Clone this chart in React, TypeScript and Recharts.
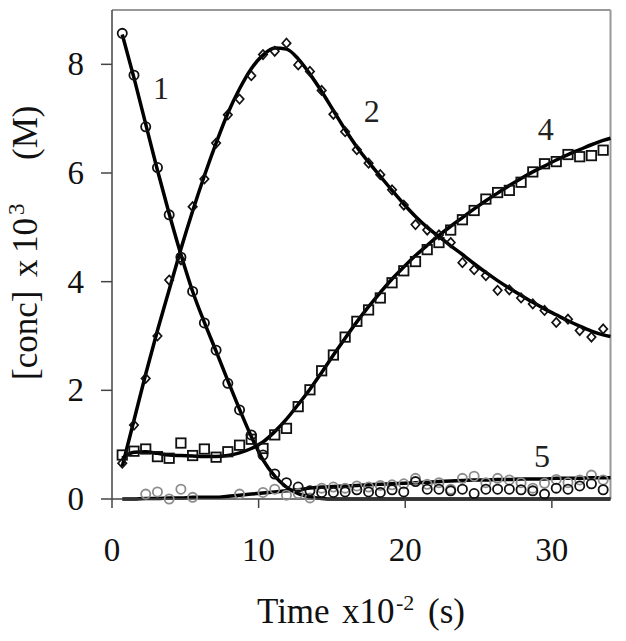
import React from 'react';
import { ComposedChart, Line, Scatter, XAxis, YAxis, ReferenceLine } from 'recharts';

// time grid (x10^-2 s)
const TIMES = [0.7, 1.5, 2.3, 3.1, 3.9, 4.7, 5.5, 6.3, 7.1, 7.9, 8.7, 9.5, 10.3, 11.1, 11.9, 12.7, 13.5, 14.3, 15.1, 15.9, 16.7, 17.5, 18.3, 19.1, 19.9, 20.7, 21.5, 22.3, 23.1, 23.9, 24.7, 25.5, 26.3, 27.1, 27.9, 28.7, 29.5, 30.3, 31.1, 31.9, 32.7, 33.5];
const FIT_TIMES = [0.7, 1.5, 2.3, 3.1, 3.9, 4.7, 5.5, 6.3, 7.1, 7.9, 8.7, 9.5, 10.3, 11.1, 11.9, 12.7, 13.5, 14.3, 15.1, 15.9, 16.7, 17.5, 18.3, 19.1, 19.9, 20.7, 21.5, 22.3, 23.1, 23.9, 24.7, 25.5, 26.3, 27.1, 27.9, 28.7, 29.5, 30.3, 31.1, 31.9, 32.7, 33.5, 34];

// observed data
const S1_OBS = [8.57, 7.80, 6.85, 6.10, 5.23, 4.45, 3.82, 3.24, 2.74, 2.13, 1.64, 1.18, 0.81, 0.46, 0.30, 0.22, 0.15, 0.12, 0.12, 0.13, 0.17, 0.13, 0.12, 0.17, 0.13, 0.32, 0.18, 0.18, 0.15, 0.18, 0.10, 0.18, 0.18, 0.18, 0.17, 0.15, 0.09, 0.20, 0.18, 0.24, 0.28, 0.17];
const S2_OBS = [0.66, 1.36, 2.22, 3.00, 4.03, 4.40, 5.38, 5.89, 6.55, 7.07, 7.36, 7.79, 8.18, 8.24, 8.39, 7.99, 7.87, 7.52, 7.08, 6.76, 6.43, 6.18, 5.97, 5.69, 5.41, 5.05, 4.95, 4.86, 4.72, 4.35, 4.22, 4.11, 3.84, 3.85, 3.70, 3.59, 3.47, 3.25, 3.31, 3.10, 2.98, 3.13];
const S4_OBS = [0.81, 0.88, 0.92, 0.78, 0.75, 1.03, 0.80, 0.92, 0.77, 0.87, 0.99, 1.10, 0.93, 1.18, 1.30, 1.70, 2.01, 2.36, 2.65, 2.98, 3.27, 3.48, 3.70, 3.98, 4.20, 4.37, 4.59, 4.72, 4.95, 5.14, 5.31, 5.52, 5.64, 5.68, 5.83, 6.02, 6.17, 6.21, 6.34, 6.30, 6.32, 6.42];
const S5_OBS = [null, null, 0.09, 0.13, 0.0, 0.18, 0.03, null, null, null, 0.09, null, 0.12, 0.18, 0.07, 0.10, 0.02, 0.20, 0.22, 0.20, 0.24, 0.22, 0.25, 0.26, 0.28, 0.38, 0.27, 0.30, 0.18, 0.38, 0.42, 0.30, 0.38, 0.35, 0.30, 0.20, 0.29, 0.36, 0.30, 0.35, 0.44, 0.35];

// fitted curves
const F1 = [8.55, 7.75, 6.90, 6.05, 5.25, 4.50, 3.82, 3.25, 2.72, 2.18, 1.65, 1.15, 0.72, 0.42, 0.22, 0.10, 0.04, 0.01, 0, 0, 0, 0, 0, 0, 0, 0, 0, 0, 0, 0, 0, 0, 0, 0, 0, 0, 0, 0, 0, 0, 0, 0, 0];
const F2 = [0.60, 1.45, 2.30, 3.10, 3.85, 4.60, 5.30, 5.95, 6.55, 7.10, 7.55, 7.92, 8.17, 8.30, 8.28, 8.10, 7.82, 7.50, 7.15, 6.80, 6.48, 6.20, 5.94, 5.68, 5.43, 5.20, 5.00, 4.83, 4.66, 4.50, 4.33, 4.17, 4.02, 3.88, 3.75, 3.62, 3.50, 3.39, 3.28, 3.18, 3.09, 3.02, 2.99];
const F4 = [0.75, 0.86, 0.87, 0.84, 0.81, 0.80, 0.79, 0.78, 0.78, 0.80, 0.85, 0.93, 1.05, 1.24, 1.47, 1.74, 2.02, 2.33, 2.65, 2.96, 3.26, 3.54, 3.80, 4.05, 4.27, 4.48, 4.67, 4.85, 5.02, 5.18, 5.34, 5.49, 5.63, 5.77, 5.90, 6.02, 6.13, 6.24, 6.34, 6.43, 6.52, 6.60, 6.64];
const F5 = [0, 0, 0.01, 0.01, 0.02, 0.02, 0.03, 0.03, 0.03, 0.05, 0.07, 0.09, 0.11, 0.13, 0.15, 0.17, 0.20, 0.22, 0.23, 0.24, 0.25, 0.26, 0.27, 0.28, 0.29, 0.30, 0.31, 0.32, 0.33, 0.34, 0.35, 0.35, 0.36, 0.36, 0.37, 0.37, 0.37, 0.38, 0.38, 0.38, 0.39, 0.39, 0.39];

// curve labels
const CURVE_LABELS = ['1', '2', '4', '5'];
const LABEL_T = [3.35, 17.71, 29.59, 29.33];
const LABEL_V = [7.57, 7.14, 6.81, 0.8];

const X_TICKS = [0, 10, 20, 30];
const Y_TICKS = [0, 2, 4, 6, 8];

const FONT = '"Liberation Serif", "Times New Roman", serif';

const fitData = FIT_TIMES.map((t, i) => ({ t, f1: F1[i], f2: F2[i], f4: F4[i], f5: F5[i] }));
const obs = (vals: (number | null)[]) =>
  TIMES.map((t, i) => ({ t, v: vals[i] })).filter((d) => d.v !== null);
const labelData = CURVE_LABELS.map((label, i) => ({ t: LABEL_T[i], v: LABEL_V[i], label }));

const circleShape = (color: string) => (p: any) =>
  <circle cx={p.cx} cy={p.cy} r={4.6} fill="none" stroke={color} strokeWidth={1.8} />;
const squareShape = (p: any) =>
  <rect x={p.cx - 4.7} y={p.cy - 4.7} width={9.4} height={9.4} fill="none" stroke="#111" strokeWidth={1.8} />;
const diamondShape = (p: any) =>
  <path d={`M${p.cx},${p.cy - 4.6}L${p.cx + 4.2},${p.cy}L${p.cx},${p.cy + 4.6}L${p.cx - 4.2},${p.cy}Z`} fill="none" stroke="#111" strokeWidth={1.7} />;
const labelShape = (p: any) =>
  <text x={p.cx} y={p.cy + 11} textAnchor="middle" fontSize={32} fontFamily={FONT} fill="#222">{p.payload.label}</text>;

const XTick = (p: any) => (
  <text x={p.x} y={p.y + 51} textAnchor="middle" fontSize={33} fontFamily={FONT} fill="#111">{p.payload.value}</text>
);
const YTick = (p: any) => (
  <text x={p.x - 15} y={p.y + 11} textAnchor="end" fontSize={33} fontFamily={FONT} fill="#111">{p.payload.value}</text>
);

export default function App() {
  return (
    <div style={{ position: 'absolute', left: 0, top: 0, width: 626, height: 641, background: '#fff' }}>
      <ComposedChart width={626} height={641} data={fitData} margin={{ top: 10, right: 15.5, bottom: 82, left: 0 }}>
        <XAxis dataKey="t" type="number" domain={[0, 34]} ticks={X_TICKS} height={60} tickSize={9}
          tick={XTick} axisLine={{ stroke: '#444', strokeWidth: 1.5 }} tickLine={{ stroke: '#444', strokeWidth: 1.5 }} />
        <YAxis type="number" domain={[0, 9]} ticks={Y_TICKS} width={112} tickSize={11}
          tick={YTick} axisLine={{ stroke: '#444', strokeWidth: 1.5 }} tickLine={{ stroke: '#444', strokeWidth: 1.5 }} />
        <ReferenceLine y={9} stroke="#999" strokeWidth={2} />
        <ReferenceLine x={34} stroke="#999" strokeWidth={2} />
        <Scatter data={obs(S5_OBS)} dataKey="v" shape={circleShape('#8c8c8c')} isAnimationActive={false} />
        <Scatter data={obs(S1_OBS)} dataKey="v" shape={circleShape('#111')} isAnimationActive={false} />
        <Scatter data={obs(S2_OBS)} dataKey="v" shape={diamondShape} isAnimationActive={false} />
        <Scatter data={obs(S4_OBS)} dataKey="v" shape={squareShape} isAnimationActive={false} />
        <Line dataKey="f5" type="monotone" stroke="#000" strokeWidth={3.5} dot={false} isAnimationActive={false} />
        <Line dataKey="f1" type="monotone" stroke="#000" strokeWidth={3.5} dot={false} isAnimationActive={false} />
        <Line dataKey="f2" type="monotone" stroke="#000" strokeWidth={3.5} dot={false} isAnimationActive={false} />
        <Line dataKey="f4" type="monotone" stroke="#000" strokeWidth={3.5} dot={false} isAnimationActive={false} />
        <Scatter data={labelData} dataKey="v" shape={labelShape} isAnimationActive={false} />
      </ComposedChart>
      <svg width={626} height={641} style={{ position: 'absolute', left: 0, top: 0, pointerEvents: 'none' }}>
        <text fontSize={35} fontFamily={FONT} fill="#111" y={623}>
          <tspan x={257}>Time</tspan>
          <tspan x={342}>x10</tspan>
          <tspan x={396} dy={-13} fontSize={22}>-2</tspan>
          <tspan x={428} dy={13}>(s)</tspan>
        </text>
        <text fontSize={35} fontFamily={FONT} fill="#111" transform="translate(37,380) rotate(-90)">
          <tspan x={0} y={0}>[conc]</tspan>
          <tspan x={103}>x</tspan>
          <tspan x={127}>10</tspan>
          <tspan x={165} dy={-13} fontSize={23}>3</tspan>
          <tspan x={220} dy={13}>(M)</tspan>
        </text>
      </svg>
    </div>
  );
}
